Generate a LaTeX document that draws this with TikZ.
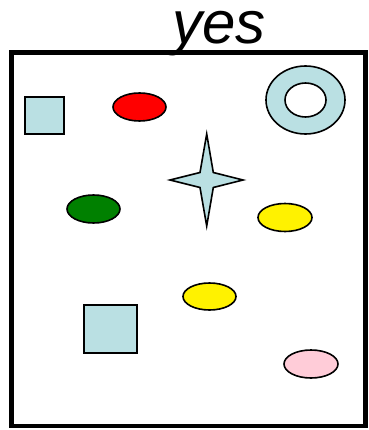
\documentclass[tikz,border=0pt]{standalone}
\usepackage{fontspec}
\setmainfont{Liberation Sans}
\definecolor{lblue}{HTML}{BAE0E3}
\definecolor{pinkc}{HTML}{FFCCD8}
\definecolor{greenc}{HTML}{008000}
\begin{document}
\begin{tikzpicture}[x=1pt,y=-1pt,
  shp/.style={draw=black,line width=1.6pt},
  frame/.style={draw=black,line width=4.5pt}]
\useasboundingbox (0,0) rectangle (368,430);
\node[font=\fontsize{60}{62}\selectfont\itshape,anchor=base,inner sep=0pt] (title) at (219,44) {yes};
\draw[frame] (11.5,52.5) rectangle (365.5,426) coordinate (fr);
\draw[shp,fill=lblue] (25,97) rectangle (64,134);
\draw[shp,fill=red] (139.5,107) ellipse [x radius=26.5,y radius=14];
\draw[shp,fill=lblue,even odd rule] (305.5,100) ellipse [x radius=39.5,y radius=34]
   (305.5,100) ellipse [x radius=20.5,y radius=17];
\draw[shp,fill=lblue,line join=miter] (206.7,134) -- (213.3,172.5) -- (243,180) -- (213.3,187.5)
   -- (206.7,226) -- (200,187.5) -- (170,180) -- (200,172.5) -- cycle;
\draw[shp,fill=greenc] (93.5,209) ellipse [x radius=26.5,y radius=14];
\draw[shp,fill=yellow] (285,217.5) ellipse [x radius=27,y radius=14];
\draw[shp,fill=yellow] (209.5,296.5) ellipse [x radius=26.5,y radius=13.5];
\draw[shp,fill=lblue] (84,305) rectangle (137,353);
\draw[shp,fill=pinkc] (311,364) ellipse [x radius=27,y radius=14];
\end{tikzpicture}
\end{document}
